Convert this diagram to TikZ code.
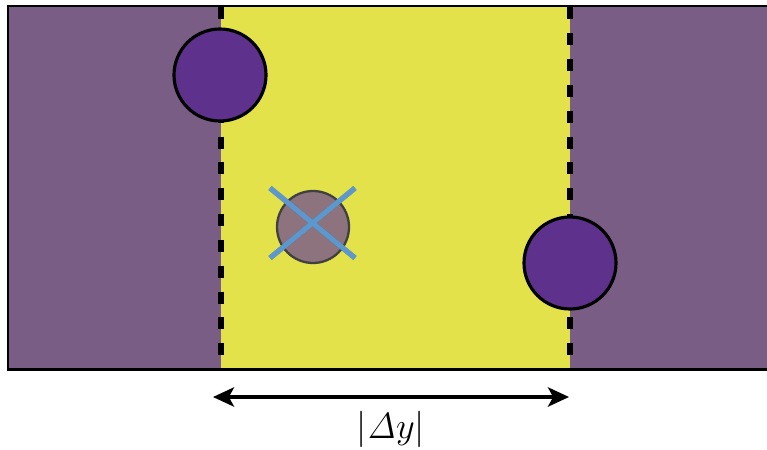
\documentclass[tikz,border=0pt]{standalone}
\usepackage{amsmath}
\definecolor{slabpurple}{RGB}{122,93,133}
\definecolor{slabyellow}{RGB}{228,226,74}
\definecolor{discpurple}{RGB}{94,50,140}
\definecolor{discgray}{RGB}{140,115,125}
\definecolor{crossblue}{RGB}{92,152,206}
\usetikzlibrary{arrows.meta,positioning,calc}

\begin{document}
\begin{tikzpicture}[
  wall/.style={draw=black,line width=3pt,dash pattern=on 6.8pt off 7.9pt},
  disc/.style={circle,draw=black,line width=1.8pt,fill=discpurple,minimum size=1.84cm,inner sep=0pt},
  ghostdisc/.style={circle,draw=black!75,line width=1.3pt,fill=discgray,minimum size=1.44cm,inner sep=0pt},
  crossline/.style={crossblue,line width=3pt},
  gaparr/.style={{Stealth[length=12pt,width=11pt,inset=3pt]}-{Stealth[length=12pt,width=11pt,inset=3pt]},line width=1.9pt}
]
  \useasboundingbox (0,0) rectangle (15.34,-8.98);

  % Slabs
  \fill[slabpurple] (0.16,-0.12) rectangle (15.34,-7.38);
  \fill[slabyellow] (4.42,-0.12) rectangle (11.40,-7.38);
  \draw[line width=1.7pt] (15.34,-0.12) -- (0.16,-0.12) -- (0.16,-7.38) -- (15.34,-7.38);

  % Dashed boundaries
  \coordinate (lt) at (4.42,-0.15);
  \coordinate (lb) at (4.42,-7.35);
  \coordinate (rt) at (11.40,-0.15);
  \coordinate (rb) at (11.40,-7.35);
  \draw[wall] (lt) -- (lb);
  \draw[wall] (rt) -- (rb);

  % Discs on the boundaries
  \node[disc] (topdisc) at (4.40,-1.50) {};
  \node[disc] (rightdisc) at (11.40,-5.26) {};

  % Crossed-out disc
  \node[ghostdisc] (ghost) at (6.26,-4.54) {};
  \draw[crossline,black,opacity=0.25,shift={(0.05,-0.05)}] ($(ghost)+(-0.86,0.78)$) -- ($(ghost)+(0.84,-0.62)$);
  \draw[crossline,black,opacity=0.25,shift={(0.05,-0.05)}] ($(ghost)+(-0.86,-0.62)$) -- ($(ghost)+(0.84,0.78)$);
  \draw[crossline] ($(ghost)+(-0.86,0.78)$) -- ($(ghost)+(0.84,-0.62)$);
  \draw[crossline] ($(ghost)+(-0.86,-0.62)$) -- ($(ghost)+(0.84,0.78)$);

  % Gap width
  \coordinate (al) at (4.26,-7.94);
  \coordinate (ar) at (11.38,-7.94);
  \draw[gaparr] (al) -- (ar);
  \node[font=\fontsize{21}{25}\selectfont] (gaplabel) at (7.82,-8.58) {$|\mathit{\Delta} y|$};
\end{tikzpicture}
\end{document}
